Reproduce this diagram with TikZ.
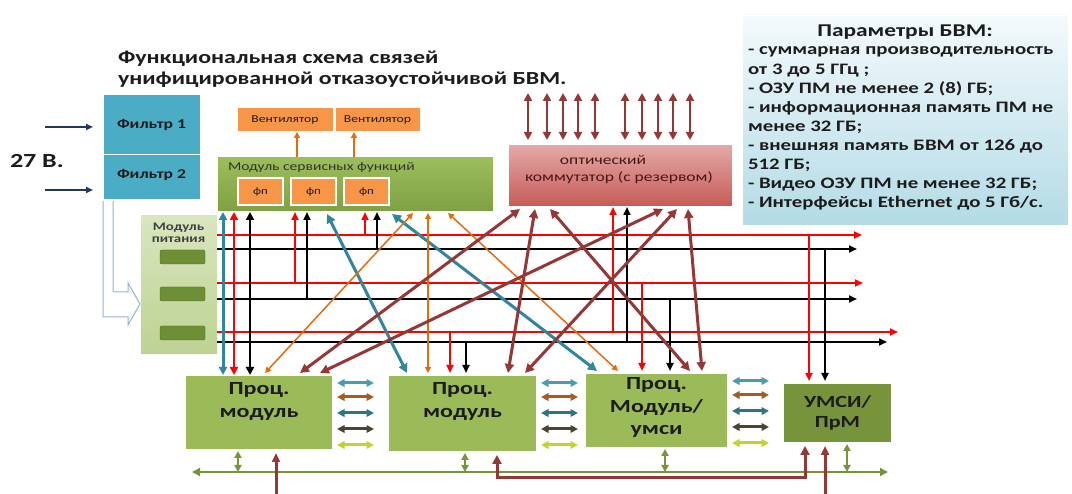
\documentclass[tikz,border=0pt]{standalone}
\usepackage{fontspec}
\setmainfont{Carlito}[FakeStretch=1.3]
\usetikzlibrary{arrows.meta,calc}

\definecolor{filterblue}{HTML}{4BACC6}
\definecolor{fanorange}{HTML}{F79646}
\definecolor{modgreen}{HTML}{9BBB59}
\definecolor{moddark}{HTML}{77933C}
\definecolor{svctop}{HTML}{9DBE5C}
\definecolor{svcbot}{HTML}{7FA043}
\definecolor{optlight}{HTML}{E3A9A7}
\definecolor{optdark}{HTML}{C65A57}
\definecolor{opttext}{HTML}{4A1614}
\definecolor{brownred}{HTML}{953735}
\definecolor{linkteal}{HTML}{31859C}
\definecolor{linkorange}{HTML}{E46C0A}
\definecolor{navy}{HTML}{1F3864}
\definecolor{paramtop}{HTML}{F4FAFC}
\definecolor{parambot}{HTML}{B3DBE6}
\definecolor{powtop}{HTML}{D9E6BF}
\definecolor{powbot}{HTML}{BDD292}
\definecolor{cellgreen}{HTML}{6E8F36}
\definecolor{hollowline}{HTML}{95B3D7}
\definecolor{sideA}{HTML}{4A9CB5}
\definecolor{sideB}{HTML}{A85B1E}
\definecolor{sideC}{HTML}{2E7389}
\definecolor{sideD}{HTML}{4B4430}
\definecolor{sideE}{HTML}{C4D22A}
\definecolor{ink}{HTML}{1C1C1C}

\begin{document}
\begin{tikzpicture}[x=1pt,y=-1pt,
  every node/.style={inner sep=0pt, outer sep=0pt, text=ink},
  bx/.style={rectangle, draw=white, line width=1pt},
  fsz/.style={font=\fontsize{#1}{#1}\selectfont},
  bfsz/.style={font=\bfseries\fontsize{#1}{#1}\selectfont},
  onetip/.style={-{Triangle[length=8pt,width=7pt]}},
  twotips/.style={{Triangle[length=#1,width=#1]}-{Triangle[length=#1,width=#1]}},
  redbus/.style={line width=2.5pt, red, onetip},
  blackbus/.style={line width=2.5pt, black, onetip},
  redline/.style={line width=2.5pt, red},
  blackline/.style={line width=2.5pt, black},
  teallink/.style={line width=3pt, linkteal, twotips=9pt},
  orangelink/.style={line width=1.5pt, linkorange, twotips=6pt},
  brownlink/.style={line width=3pt, brownred, twotips=9pt},
  greenlink/.style={line width=2.5pt, moddark, twotips=7pt},
  sidelink/.style={line width=3pt, #1, twotips=7.5pt},
  feed/.style={line width=3pt, brownred},
]
\useasboundingbox (0,0) rectangle (1072,494);
\fill[white] (0,0) rectangle (1072,494);

% ---------- heading ----------
\node[bfsz=18.4, anchor=base west] (head1) at (118,64) {Функциональная схема связей};
\node[bfsz=18.4, anchor=base west] (head2) at (118,85) {унифицированной отказоустойчивой БВМ.};

% ---------- supply input ----------
\node[bfsz=20, anchor=base west] (volt) at (10,168) {27 В.};
\node[bx, fill=filterblue, minimum width=97pt, minimum height=60pt, bfsz=13.5] (f1) at (151.5,125) {Фильтр 1};
\node[bx, fill=filterblue, minimum width=97pt, minimum height=45pt, bfsz=13.5] (f2) at (151.5,177.5) {\raisebox{7pt}{Фильтр 2}};
\coordinate (in1) at (45,127);
\coordinate (in2) at (45,190);
\draw[line width=2pt, navy, -{Triangle[length=7pt,width=6pt]}] (in1) -- ([xshift=-10pt]in1 -| f1.west);
\draw[line width=2pt, navy, -{Triangle[length=7pt,width=6pt]}] (in2) -- ([xshift=-10pt]in2 -| f2.west);

% ---------- power module ----------
\node[bx, top color=powtop, bottom color=powbot, minimum width=77pt, minimum height=140pt] (pw) at (178.5,285) {};
\node[bfsz=11.5, align=center, text=black!75] (pwlabel) at (178.5,233) {Модуль\\[1pt]питания};
\foreach \yy/\nm in {257/c1, 294/c2, 333/c3}
  \node[rectangle, rounded corners=2pt, fill=cellgreen, draw=cellgreen!70!black, minimum width=45pt, minimum height=14pt] (\nm) at (182.5,\yy) {};

% hollow bent arrow from the filters into the power module
\coordinate (pwin) at ($(pw.west)+(0,19)$);
\draw[hollowline, line width=1pt, fill=white]
  (103,201) -- (103,317) -- (128,317) -- (128,325) -- (pwin) -- (128,283)
  -- (128,292) -- (113,292) -- (113,201);

% ---------- service module and fans ----------
\node[bx, fill=fanorange, minimum width=96pt, minimum height=24pt, fsz=10.5] (v1) at (285,120) {Вентилятор};
\node[bx, fill=fanorange, minimum width=85pt, minimum height=24pt, fsz=10.5] (v2) at (377.5,120) {Вентилятор};
\node[bx, top color=svctop, bottom color=svcbot, minimum width=276pt, minimum height=55pt] (svc) at (355,184.5) {};
\node[fsz=12, anchor=base west, text=black!80] (svclabel) at (228,171) {Модуль сервисных функций};
\foreach \xx/\nm in {260.5/fp1, 313.5/fp2, 366.5/fp3}
  \node[bx, line width=1.5pt, fill=fanorange, minimum width=45pt, minimum height=27pt, fsz=10] (\nm) at (\xx,191.5) {фп};
\draw[line width=2pt, linkorange, -{Triangle[length=6pt,width=6pt]}] ($(svc.north west)+(80,0)$) -- ($(v1.south west)+(60,0)$);
\draw[line width=2pt, linkorange, -{Triangle[length=6pt,width=6pt]}] ($(svc.north west)+(137,0)$) -- ($(v2.south west)+(19,0)$);

% ---------- optical switch ----------
\node[bx, top color=optlight, bottom color=optdark, minimum width=224pt, minimum height=62pt] (opt) at (620,176) {};
\node[fsz=13.5, text=opttext] (optlabel1) at (603,160) {оптический};
\node[fsz=13.5, text=opttext] (optlabel2) at (619,178) {коммутатор (с резервом)};
\foreach \dx in {20,39,55,70,87,117,134,150,165,182}
  \draw[brownlink, twotips=8pt, line width=2.5pt] ($(opt.north west)+(\dx,-5)$) -- ($(opt.north west)+(\dx,-52)$);

% ---------- parameters ----------
\node[rectangle, draw=white, top color=paramtop, bottom color=parambot, minimum width=326pt, minimum height=210pt] (par) at (905,120) {};
\node[bfsz=18] (partitle) at (905,32) {Параметры БВМ:};
\foreach \i/\yy/\t in {
  1/55/{- суммарная производительность},
  2/74.5/{от 3 до 5 ГГц ;},
  3/94/{- ОЗУ ПМ не менее 2 (8) ГБ;},
  4/113/{- информационная память ПМ не},
  5/132/{менее 32 ГБ;},
  6/151/{- внешняя память БВМ от 126 до},
  7/170/{512 ГБ;},
  8/189/{- Видео ОЗУ ПМ не менее 32 ГБ;},
  9/208/{- Интерфейсы Ethernet до 5 Гб/с.}}
  \node[bfsz=16, anchor=base west] (pline\i) at (748,\yy) {\t};

% ---------- processor modules ----------
\node[bx, fill=modgreen, line width=1.5pt, minimum width=148pt, minimum height=75pt] (p1) at (259,412.5) {};
\node[bx, fill=modgreen, line width=1.5pt, minimum width=149pt, minimum height=77pt] (p2) at (462.5,413.5) {};
\node[bx, fill=modgreen, line width=1.5pt, minimum width=143pt, minimum height=75pt] (p3) at (656.5,410.5) {};
\node[bx, fill=moddark, line width=1.5pt, minimum width=109pt, minimum height=60pt, bfsz=17, align=center] (um) at (837.5,413) {УМСИ/\\[3pt]ПрМ};
\node[bfsz=18.5, align=center] (p1text) at ($(p1.center)+(0,-11)$) {Проц.\\[4pt]модуль};
\node[bfsz=18.5, align=center] (p2text) at ($(p2.center)+(0,-12)$) {Проц.\\[4pt]модуль};
\node[bfsz=18.5, align=center] (p3text) at ($(p3.center)+(0,-3)$) {Проц.\\[4pt]Модуль/\\[4pt]умси};

% side links of each processor module
\foreach \m in {p1,p2,p3}{
  \foreach \dy/\cl in {8/sideA, 22/sideB, 38/sideC, 54/sideD, 70/sideE}
    \draw[sidelink=\cl] ($(\m.north east)+(4,\dy)$) -- ($(\m.north east)+(41,\dy)$);
}

% ---------- power buses ----------
\coordinate (r1) at ($(pw.north east)+(0,20)$);
\coordinate (k1) at ($(pw.north east)+(0,34)$);
\coordinate (r2) at ($(pw.north east)+(0,68)$);
\coordinate (k2) at ($(pw.north east)+(0,84)$);
\coordinate (r3) at ($(pw.north east)+(0,117)$);
\coordinate (k3) at ($(pw.north east)+(0,127)$);
\draw[redbus]   (r1) -- ++(645,0);
\draw[blackbus] (k1) -- ++(640,0);
\draw[redbus]   (r2) -- ++(646,0);
\draw[blackbus] (k2) -- ++(640,0);
\draw[redbus]   (r3) -- ++(681,0);
\draw[blackbus] (k3) -- ++(670,0);

% taps up into the service module
\foreach \dx/\bus/\kind in {148/r1/redline, 160/k1/blackline, 78/r2/redline, 90/k2/blackline}{
  \coordinate (tap) at ($(svc.south west)+(\dx,0)$);
  \draw[\kind, onetip] (tap |- \bus) -- (tap);
}

% trunk between the service module and the first processor module
\draw[teallink, twotips=8pt] ($(svc.south west)+(6,0)$) -- ($(p1.north west)+(38,0)$);
\draw[redline, twotips=8pt] ($(svc.south west)+(17,0)$) -- ($(p1.north west)+(49,0)$);
\draw[blackline, twotips=8pt] ($(svc.south west)+(33,0)$) -- ($(p1.north west)+(65,0)$);

% taps down into the processor modules and the УМСИ block
\foreach \nd/\dx/\bus/\kind in {p2/62/r3/redline, p2/78/k3/blackline, p3/57/r2/redline, p3/85/k2/blackline, um/26/r1/redline, um/42/k1/blackline}{
  \coordinate (tap) at ($(\nd.north west)+(\dx,-2)$);
  \draw[\kind, onetip] (tap |- \bus) -- (tap);
}

% taps up into the optical switch
\foreach \dx/\bus/\kind in {105/r3/redline, 119/k3/blackline}{
  \coordinate (tap) at ($(opt.south west)+(\dx,0)$);
  \draw[\kind, onetip] (tap |- \bus) -- (tap);
}

% ---------- cross links ----------
\draw[teallink] ($(svc.south west)+(110,2)$) -- ($(p2.north west)+(19,-2)$);
\draw[teallink] ($(svc.south west)+(175,2)$) -- ($(p3.north west)+(12,-2)$);
\draw[orangelink] ($(svc.south west)+(196,1)$) -- ($(p1.north west)+(80,-2)$);
\draw[orangelink] ($(svc.south west)+(211,1)$) -- ($(p2.north west)+(40,-2)$);
\draw[orangelink] ($(svc.south west)+(231,1)$) -- ($(p3.north west)+(33,-2)$);

\draw[brownlink] ($(opt.south west)+(12,2)$)  -- ($(p1.north west)+(115,-2)$);
\draw[brownlink] ($(opt.south west)+(155,2)$) -- ($(p1.north west)+(135,-2)$);
\draw[brownlink] ($(opt.south west)+(27,2)$)  -- ($(p2.north west)+(120,-2)$);
\draw[brownlink] ($(opt.south west)+(42,2)$)  -- ($(p3.north west)+(105,-2)$);
\draw[brownlink] ($(opt.south west)+(169,2)$) -- ($(p2.north west)+(137,-2)$);
\draw[brownlink] ($(opt.south west)+(180,2)$) -- ($(p3.north west)+(117,-2)$);

% ---------- lower bus ----------
\coordinate (gl) at (192,472);
\coordinate (gr) at (888,472);
\draw[greenlink, twotips=8pt] (gl) -- (gr);
\foreach \nd/\dx in {p1/53, p2/77, p3/80, um/64}{
  \coordinate (drop) at ($(\nd.south west)+(\dx,1)$);
  \draw[greenlink] (drop) -- (drop |- gl);
}

% external feeds from below
\coordinate (ext1) at (276,494);
\coordinate (ext2) at (825,494);
\draw[feed, -{Triangle[length=9pt,width=8pt]}] (ext1) -- ($(ext1 |- p1.south)+(0,3)$);
\draw[feed, -{Triangle[length=9pt,width=8pt]}] (ext2) -- ($(ext2 |- um.south)+(0,3)$);
\coordinate (lp2) at ($(p2.south west)+(109,3)$);
\coordinate (lum) at ($(um.south west)+(22,3)$);
\draw[feed, twotips=9pt] (lp2) -- ++(0,23) -| (lum);
\end{tikzpicture}
\end{document}
